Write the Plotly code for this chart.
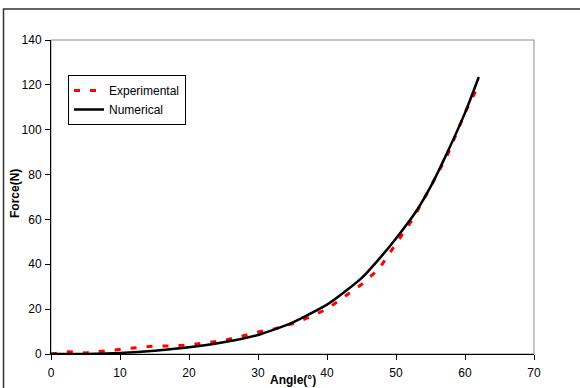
import plotly.graph_objects as go

# Experimental data (red dashed)
angle_exp = [0, 2.5, 5, 7.5, 10, 12.5, 15, 17.5, 20, 22.5, 25, 27.5, 30, 32.5, 35,
             37.5, 40, 42.5, 45, 47.5, 50, 52.5, 55, 57.5, 60, 62]
force_exp = [0, 1.0, 0.5, 1.2, 2.0, 2.8, 3.6, 3.6, 4.0, 5.0, 6.0, 7.8, 9.8, 11.3, 13.5,
             16.5, 20.0, 25.5, 31.0, 37.8, 49.0, 60.5, 74.5, 89.0, 107.5, 120.0]

# Numerical data (black solid)
angle_num = [0, 5, 8, 12, 15, 20, 25, 30, 35, 40, 42, 45, 48, 50, 53, 55, 57, 60, 62]
force_num = [0, 0, 0.2, 0.8, 1.5, 3.0, 5.2, 8.5, 14.0, 22.0, 26.4, 33.8, 44.0, 51.5,
             64.0, 74.5, 87.0, 107.5, 123.5]

x_ticks = [0, 10, 20, 30, 40, 50, 60, 70]
y_ticks = [0, 20, 40, 60, 80, 100, 120, 140]

FONT = "Liberation Sans, Arial, sans-serif"
FS = 12

fig = go.Figure()
fig.add_trace(go.Scatter(
    x=angle_exp, y=force_exp, mode="lines", name="Experimental",
    line=dict(color="#FF0000", width=3, dash="6px,10px"),
))
fig.add_trace(go.Scatter(
    x=angle_num, y=force_num, mode="lines", name="Numerical",
    line=dict(color="#000000", width=2.5, shape="spline", smoothing=0.6),
))

L, R, T, B = 51, 534, 40, 354
W, H = 580, 388
pw, ph = R - L, B - T

fig.update_layout(
    width=W, height=H,
    margin=dict(l=L, r=W - R, t=T, b=H - B, pad=0, autoexpand=False),
    paper_bgcolor="white", plot_bgcolor="white",
    font=dict(family=FONT, size=FS, color="#000000"),
    showlegend=True,
    legend=dict(
        x=(68 - L) / pw, y=(B - 75) / ph, xanchor="left", yanchor="top",
        bgcolor="white", bordercolor="#000000", borderwidth=1,
        font=dict(family=FONT, size=FS, color="#000000"),
        itemwidth=30, tracegroupgap=0,
    ),
    xaxis=dict(
        range=[0, 70], tickvals=x_ticks, ticktext=[str(v) for v in x_ticks],
        showgrid=False, zeroline=False, showline=True, linecolor="#000000", linewidth=1,
        ticks="outside", ticklen=5, tickcolor="#000000", tickwidth=1,
        ticklabelstandoff=3, automargin=False,
        tickfont=dict(family=FONT, size=FS, color="#000000"),
    ),
    yaxis=dict(
        range=[0, 140], tickvals=y_ticks, ticktext=[str(v) for v in y_ticks],
        showgrid=False, zeroline=False, showline=True, linecolor="#000000", linewidth=1,
        ticks="outside", ticklen=5, tickcolor="#000000", tickwidth=1,
        ticklabelstandoff=1, automargin=False,
        tickfont=dict(family=FONT, size=FS, color="#000000"),
    ),
    shapes=[
        # plot-area border (gray top/right)
        dict(type="rect", xref="paper", yref="paper", x0=0, y0=0, x1=1, y1=1,
             line=dict(color="#8C8C8C", width=1), layer="below"),
        # chart-area border
        dict(type="rect", xref="paper", yref="paper",
             x0=(3.5 - L) / pw, x1=(590 - L) / pw,
             y0=(B - 400) / ph, y1=(B - 9) / ph,
             line=dict(color="#333333", width=1.5), layer="below"),
    ],
    annotations=[
        dict(text="<b>Angle(°)</b>", xref="paper", yref="paper",
             x=(293 - L) / pw, y=(B - 380) / ph, xanchor="center", yanchor="middle",
             showarrow=False, font=dict(family=FONT, size=FS, color="#000000")),
        dict(text="<b>Force(N)</b>", xref="paper", yref="paper",
             x=(15 - L) / pw, y=(B - 194) / ph, xanchor="center", yanchor="middle",
             textangle=-90, showarrow=False,
             font=dict(family=FONT, size=FS, color="#000000")),
    ],
)

fig.write_html("out.html", config={"displayModeBar": False},
               post_script="document.body.style.margin='0';")
